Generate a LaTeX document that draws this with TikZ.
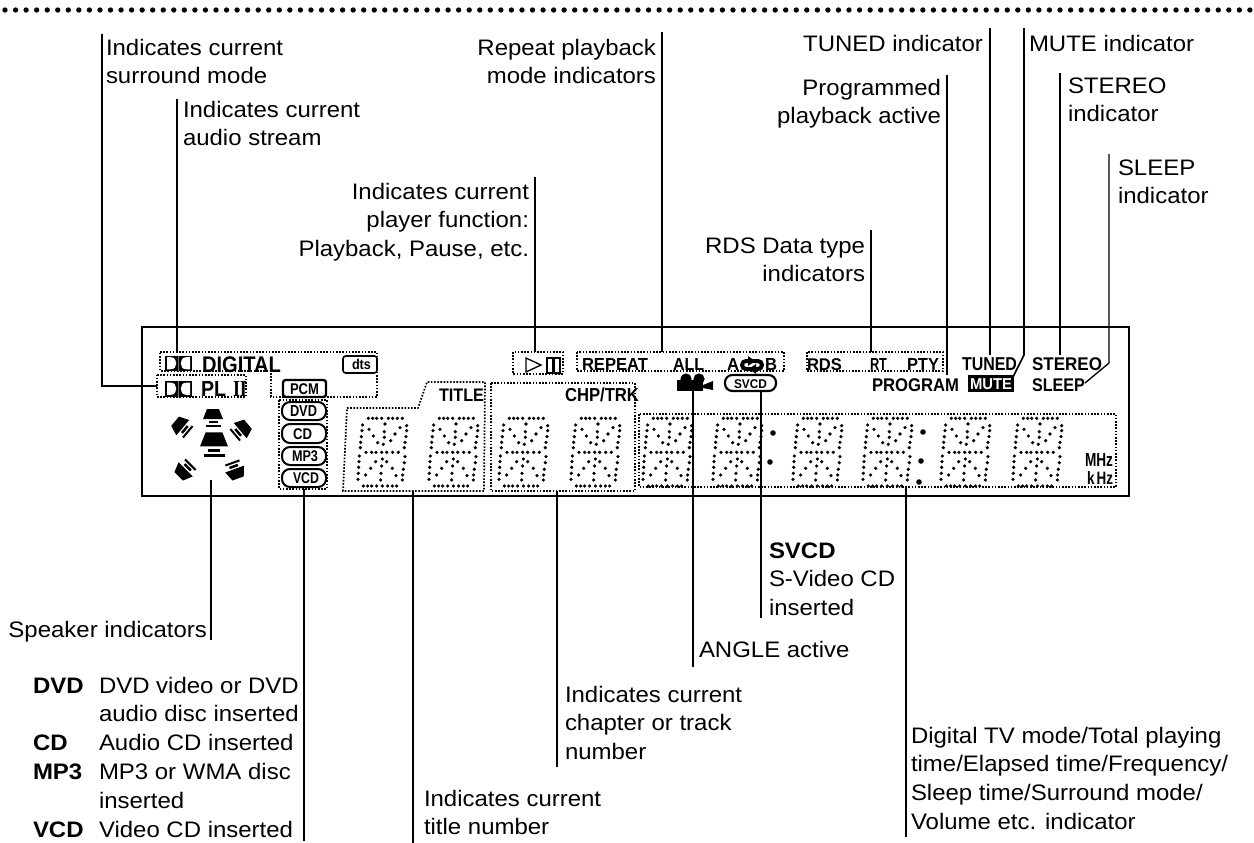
\documentclass[tikz,border=0pt]{standalone}
\usepackage{fontspec}
\usepackage{graphicx}
\setmainfont[FakeStretch=1.07]{Liberation Sans}
\newfontfamily\iifont{Liberation Serif}
\tikzset{
  leader/.style={line width=1.2pt,black},
  dotbox/.style={line width=1.3pt,dash pattern=on 1.2pt off 1.2pt,black},
  lcdbox/.style={line width=1.5pt,draw=black,fill=white,rounded corners=4pt},
  lbl/.style={inner sep=0pt,outer sep=0pt,anchor=base west,font=\fontsize{16.8pt}{21.6pt}\selectfont},
  lblr/.style={lbl,anchor=base east},
  ind/.style={inner sep=0pt,outer sep=0pt,anchor=base west},
}
\newcommand\leftlines[1]{\begin{tabular}[t]{@{}l@{}}#1\end{tabular}}
\newcommand\rightlines[1]{\begin{tabular}[t]{@{}r@{}}#1\end{tabular}}
\newcommand\ind[7][black]{\node[ind,text=#1] (#2) at (#3,#4) {\resizebox*{\dimexpr#5pt*3/4\relax}{\dimexpr#6pt*3/4\relax}{\bfseries #7}};}
\newcommand\digitglyph[2]{%
  \begin{scope}[shift={(#1,#2)}]
  \foreach \a/\b in {55/25,68/25,80/25,95/25,115/25,128/25,142/25,157/25,
    38/45,36/62,34/80,32/97,31/113,
    170/47,170/62,168/80,165/97,163/113,
    105/42,103/65,103/82,100/103,
    57/58,70/78,83/98,150/53,135/72,122/92,
    48/127,65/127,78/127,95/127,110/127,128/127,145/127,
    28/138,27/155,26/172,25/190,24/208,
    165/140,163/158,160/178,158/195,157/210,
    97/147,95/168,93/190,92/210,
    77/155,62/175,47/195,110/155,127/175,138/197,
    40/228,53/228,65/228,80/228,97/228,113/228,127/228,140/228}
    {\fill ({\a/3},{\b/3}) circle[radius=1.35pt];}
  \end{scope}}
\newcommand\speakerglyph[4]{%
  \begin{scope}[shift={(#1,#2)},rotate=#3,scale=#4]
  \fill (-6,-9) -- (6,-9) -- (10,1) -- (-10,1) -- cycle;
  \fill (-4.5,2.5) rectangle (4.5,5);
  \fill (-7.5,6.5) rectangle (7.5,8.5);
  \end{scope}}
\newcommand\dolbylogo[2]{%
  \begin{scope}[shift={(#1,#2)}]
  \fill (0,0) rectangle (27,15.5);
  \fill[white] (2,1.7) -- (6,1.7) .. controls (13,1.7) and (13,13.8) .. (6,13.8) -- (2,13.8) -- cycle;
  \fill[white] (25,1.7) -- (21,1.7) .. controls (14,1.7) and (14,13.8) .. (21,13.8) -- (25,13.8) -- cycle;
  \fill[black!55] (12.7,0) rectangle (14.3,15.5);
  \end{scope}}
\begin{document}
\begin{tikzpicture}[x=0.75pt,y=-0.75pt]
\useasboundingbox (0,0) rectangle (1254,843);
\fill[white] (0,0) rectangle (1254,843);
% top row of dots
\foreach \i in {0,...,118} {\fill ({5+10.55*\i},10) circle[radius=2pt];}
% display frame
\draw[line width=1.9pt] (142,327) rectangle (1129,496);
% dotted groups
\draw[dotbox] (160,352) -- (377,352) -- (377,397) -- (271,397) -- (271,371) -- (160,371) -- cycle;
\draw[dotbox] (157,375) -- (246,375) -- (246,397) -- (157,397) -- cycle;
\draw[dotbox] (279,400) rectangle (327,489);
\draw[dotbox] (347,408) -- (418,408) -- (427,382) -- (485,382) -- (484,491) -- (343,491) -- cycle;
\draw[dotbox] (491,383) rectangle (635,491);
\draw[dotbox] (639,414) rectangle (1116,487);
\draw[dotbox] (513,352) rectangle (563,374);
\draw[dotbox] (577,352) rectangle (784,371);
\draw[dotbox] (807,352) rectangle (943,371);
% digits
\foreach \x in {362,433,503,575,647,717,797,867,945,1017} {\digitglyph{\x-12}{410}}
\foreach \x/\y in {773/433,770/462,923/432,921/461,919/482} {\fill (\x,\y) circle[radius=2.1pt];}
% indicators
\dolbylogo{165}{355.5}
\dolbylogo{165}{381}
\ind{digital}{202}{372}{79}{16}{DIGITAL}
\ind{pl}{201}{396}{25}{15}{PL}
\ind{plii}{233}{396}{14}{15}{{\iifont II}}
\draw[lcdbox,line width=1.2pt,rounded corners=2pt] (343,356) rectangle (377,373);
\ind{dts}{352}{369}{19}{10.5}{dts}
\draw[lcdbox,line width=1.8pt,rounded corners=2pt] (283,380) rectangle (326,397);
\ind{pcm}{290}{394}{29}{11}{PCM}
\draw[lcdbox,rounded corners=6pt] (282,402) rectangle (326,420);
\ind{dvd}{290}{416.5}{27}{11}{DVD}
\draw[lcdbox,rounded corners=6pt] (282,424) rectangle (326,443);
\ind{cd}{293}{439}{19}{11}{CD}
\draw[lcdbox,rounded corners=6pt] (282,447) rectangle (326,465);
\ind{mp3}{292}{461.5}{26}{11}{MP3}
\draw[lcdbox,rounded corners=6pt] (282,469) rectangle (326,487);
\ind{vcd}{293}{483.5}{26}{11}{VCD}
\ind{title}{439}{401}{45}{12.5}{TITLE}
\ind{chptrk}{565}{401}{74}{14}{CHP/TRK}
\draw[line width=1pt] (526,358) -- (526,372) -- (541,365) -- cycle;
\draw[line width=1pt] (547,358) rectangle (553,373);
\draw[line width=1pt] (554,358) rectangle (560,373);
\ind{repeat}{582}{370}{66}{12}{REPEAT}
\ind{all}{673}{370}{31}{12}{ALL}
\ind{aa}{727}{370}{12}{12}{A}
\draw[line width=3pt,rounded corners=3pt] (742,361) rectangle (762,369);
\fill (748,356) -- (755,361) -- (748,366) -- cycle;
\fill (756,364) -- (749,369) -- (756,374) -- cycle;
\ind{bb}{765}{370}{12}{12}{B}
\fill (686,379) circle[radius=4.2pt];
\fill (699,379) circle[radius=4.2pt];
\fill (677,380) rectangle (703,391);
\fill (703,385) -- (713,381) -- (713,390) -- (703,388) -- cycle;
\draw[lcdbox,line width=1.6pt,rounded corners=5.5pt] (725,375) rectangle (776,391);
\ind{svcdi}{734}{388}{33}{9}{SVCD}
\ind{rds}{807}{370}{35}{12}{RDS}
\ind{rt}{870}{370}{17}{12}{RT}
\ind{pty}{907}{370}{32}{12}{PTY}
\ind{tuned}{962}{370}{55}{13}{TUNED}
\ind{stereo}{1032}{370}{70}{13}{STEREO}
\ind{program}{872}{391}{87}{13}{PROGRAM}
\fill (968,375) rectangle (1014,392);
\ind[white]{mute}{970}{389}{42}{11}{MUTE}
\ind{sleep}{1032}{391}{53}{13}{SLEEP}
\ind{mhz}{1085}{466}{28}{13}{MHz}
\ind{khz}{1087}{484}{26}{13}{k\,Hz}
% speakers
\speakerglyph{213}{418}{0}{1}
\speakerglyph{214}{445}{0}{1.4}
\speakerglyph{182}{427}{50}{1}
\speakerglyph{241}{430}{-50}{1}
\speakerglyph{185}{470}{135}{1}
\speakerglyph{235}{470}{-160}{1}
% leader end points
\coordinate (s1) at (102,34); \coordinate (s2) at (102,386); \coordinate (s3) at (157,386);
\coordinate (au1) at (177,99); \coordinate (au2) at (177,352);
\coordinate (pf1) at (535,177); \coordinate (pf2) at (535,352);
\coordinate (rp1) at (662,32); \coordinate (rp2) at (662,352);
\coordinate (rd1) at (871,230); \coordinate (rd2) at (871,352);
\coordinate (pg1) at (947,75); \coordinate (pg2) at (947,375);
\coordinate (tu1) at (990,28); \coordinate (tu2) at (990,355);
\coordinate (mu1) at (1024,28); \coordinate (mu2) at (1024,355); \coordinate (mu3) at (1013,377);
\coordinate (st1) at (1060,73); \coordinate (st2) at (1060,355);
\coordinate (sl1) at (1109,154); \coordinate (sl2) at (1109,363); \coordinate (sl3) at (1085,383);
\coordinate (sp1) at (211,480); \coordinate (sp2) at (211,640);
\coordinate (dv1) at (304,489); \coordinate (dv2) at (304,841);
\coordinate (ti1) at (413,491); \coordinate (ti2) at (413,843);
\coordinate (ch1) at (557,491); \coordinate (ch2) at (557,767);
\coordinate (an1) at (693,391); \coordinate (an2) at (693,667);
\coordinate (sv1) at (761,391); \coordinate (sv2) at (761,618);
\coordinate (tv1) at (906,487); \coordinate (tv2) at (906,837);
\draw[leader] (s1) -- (s2) -- (s3);
\draw[leader] (au1) -- (au2);
\draw[leader] (pf1) -- (pf2);
\draw[leader] (rp1) -- (rp2);
\draw[leader] (rd1) -- (rd2);
\draw[leader] (pg1) -- (pg2);
\draw[leader] (tu1) -- (tu2);
\draw[leader] (mu1) -- (mu2) -- (mu3);
\draw[leader] (st1) -- (st2);
\draw[leader,line width=1pt] (sl1) -- (sl2) -- (sl3);
\draw[leader] (sp1) -- (sp2);
\draw[leader] (dv1) -- (dv2);
\draw[leader] (ti1) -- (ti2);
\draw[leader] (ch1) -- (ch2);
\draw[leader] (an1) -- (an2);
\draw[leader] (sv1) -- (sv2);
\draw[leader] (tv1) -- (tv2);
% labels
\node[lbl] (lsurround) at (106,55) {\leftlines{Indicates current\\surround mode}};
\node[lbl] (laudio) at (183,117) {\leftlines{Indicates current\\audio stream}};
\node[lblr] (lplayer) at (529,199) {\rightlines{Indicates current\\player function:\\Playback, Pause, etc.}};
\node[lblr] (lrepeat) at (656,55) {\rightlines{Repeat playback\\mode indicators}};
\node[lblr] (ltuned) at (983,51) {TUNED indicator};
\node[lbl] (lmute) at (1029,51) {MUTE indicator};
\node[lblr] (lprog) at (941,95) {\rightlines{Programmed\\playback active}};
\node[lbl] (lstereo) at (1068,93) {\leftlines{STEREO\\indicator}};
\node[lbl] (lsleep) at (1118,175) {\leftlines{SLEEP\\indicator}};
\node[lblr] (lrds) at (865,253) {\rightlines{RDS Data type\\indicators}};
\node[lblr] (lspeak) at (207,637) {Speaker indicators};
\node[lbl] (ldisc) at (33,693) {\begin{tabular}[t]{@{}p{49.5pt}@{}l@{}}\bfseries DVD&DVD video or DVD\\&audio disc inserted\\\bfseries CD&Audio CD inserted\\\bfseries MP3&MP3 or WMA disc\\&inserted\\\bfseries VCD&Video CD inserted\end{tabular}};
\node[lbl] (ltitle) at (424,806) {\leftlines{Indicates current\\title number}};
\node[lbl] (lchap) at (565,702) {\leftlines{Indicates current\\chapter or track\\number}};
\node[lbl] (langle) at (699,657) {ANGLE active};
\node[lbl] (lsvcd) at (769,558) {\leftlines{\bfseries SVCD\\S-Video CD\\inserted}};
\node[lbl] (ltv) at (911,743) {\leftlines{Digital TV mode/Total playing\\time/Elapsed time/Frequency/\\Sleep time/Surround mode/\\Volume etc. indicator}};
\end{tikzpicture}
\end{document}
